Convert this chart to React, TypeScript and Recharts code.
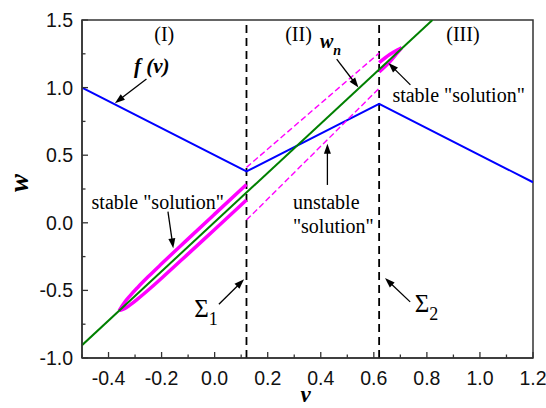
import React from 'react';
import {
  ComposedChart,
  Line,
  XAxis,
  YAxis,
  Label,
  ReferenceLine,
  ReferenceDot,
  ReferenceArea,
} from 'recharts';

// f(v): piecewise linear nullcline
const fCurve = [
  { v: -0.5, w: 1.0 },
  { v: 0.12, w: 0.38 },
  { v: 0.62, w: 0.88 },
  { v: 1.2, w: 0.3 },
];

// w_n line
const wnLine = [
  { v: -0.5, w: -0.905 },
  { v: 0.821, w: 1.5 },
];

// stable "solution" in region I (thick magenta lens)
const stableUpperI = [
  { v: -0.36, w: -0.65 },
  { v: -0.34, w: -0.589 },
  { v: -0.32, w: -0.542 },
  { v: -0.29, w: -0.478 },
  { v: -0.25, w: -0.398 },
  { v: -0.2, w: -0.303 },
  { v: -0.1, w: -0.119 },
  { v: 0.0, w: 0.064 },
  { v: 0.12, w: 0.283 },
];
const stableLowerI = [
  { v: -0.36, w: -0.65 },
  { v: -0.34, w: -0.636 },
  { v: -0.32, w: -0.609 },
  { v: -0.29, w: -0.563 },
  { v: -0.25, w: -0.497 },
  { v: -0.2, w: -0.41 },
  { v: -0.1, w: -0.23 },
  { v: 0.0, w: -0.049 },
  { v: 0.12, w: 0.168 },
];

// unstable "solution" in region II (dashed magenta)
const unstableUpperII = [
  { v: 0.12, w: 0.41 },
  { v: 0.62, w: 1.255 },
];
const unstableLowerII = [
  { v: 0.12, w: 0.02 },
  { v: 0.62, w: 0.995 },
];

// stable "solution" in region III
const stableUpperIII = [
  { v: 0.62, w: 1.185 },
  { v: 0.66, w: 1.245 },
  { v: 0.69, w: 1.28 },
  { v: 0.705, w: 1.295 },
];
const stableLowerIII = [
  { v: 0.62, w: 1.115 },
  { v: 0.66, w: 1.19 },
  { v: 0.69, w: 1.26 },
  { v: 0.705, w: 1.295 },
];

const sigmaLines = [0.12, 0.62];

const xMajorTicks = [-0.4, -0.2, 0.0, 0.2, 0.4, 0.6, 0.8, 1.0, 1.2];
const xMinorTicks = [-0.5, -0.3, -0.1, 0.1, 0.3, 0.5, 0.7, 0.9, 1.1];
const yMajorTicks = [-1.0, -0.5, 0.0, 0.5, 1.0, 1.5];
const yMinorTicks = [-0.75, -0.25, 0.25, 0.75, 1.25];

const regionLabels = [
  { text: '(I)', v: -0.19, w: 1.345 },
  { text: '(II)', v: 0.316, w: 1.345 },
  { text: '(III)', v: 0.936, w: 1.345 },
];

const plainNotes = [
  { text: 'stable "solution"', v: 0.67, w: 0.897 },
  { text: 'stable "solution"', v: -0.464, w: 0.102 },
  { text: 'unstable', v: 0.295, w: 0.1 },
  { text: '"solution"', v: 0.295, w: -0.073 },
];

const sigmaNotes = [
  { sub: '1', v: -0.077, w: -0.696 },
  { sub: '2', v: 0.754, w: -0.659 },
];

const arrows = [
  { from: { v: -0.257, w: 1.063 }, to: { v: -0.376, w: 0.885 } },
  { from: { v: 0.46, w: 1.211 }, to: { v: 0.542, w: 1.0 } },
  { from: { v: 0.738, w: 1.02 }, to: { v: 0.655, w: 1.182 } },
  { from: { v: -0.176, w: 0.082 }, to: { v: -0.156, w: -0.189 } },
  { from: { v: 0.425, w: 0.28 }, to: { v: 0.425, w: 0.585 } },
  { from: { v: 0.016, w: -0.602 }, to: { v: 0.111, w: -0.418 } },
  { from: { v: 0.737, w: -0.585 }, to: { v: 0.642, w: -0.409 } },
];

const serif = '"Liberation Serif", "Times New Roman", serif';
const sans = '"Liberation Sans", Arial, sans-serif';
const axisColor = '#333';

const isMajor = (list: number[], val: number) => list.some((t) => Math.abs(t - val) < 1e-6);

const XTick = (props: any) => {
  const { x, y, payload } = props;
  const major = isMajor(xMajorTicks, payload.value);
  return (
    <g>
      <line x1={x} y1={y} x2={x} y2={y - (major ? 6 : 3.5)} stroke={axisColor} strokeWidth={1.3} />
      {major && (
        <text x={x} y={y + 27} textAnchor="middle" fontSize={19.5} fontFamily={sans} fill="#111">
          {payload.value.toFixed(1)}
        </text>
      )}
    </g>
  );
};

const YTick = (props: any) => {
  const { x, y, payload } = props;
  const major = isMajor(yMajorTicks, payload.value);
  return (
    <g>
      <line x1={x} y1={y} x2={x + (major ? 6 : 3.5)} y2={y} stroke={axisColor} strokeWidth={1.3} />
      {major && (
        <text x={x - 9} y={y} dy="0.36em" textAnchor="end" fontSize={19.5} fontFamily={sans} fill="#111">
          {payload.value.toFixed(1)}
        </text>
      )}
    </g>
  );
};

const Arrow = (props: any) => {
  const { x1, y1, x2, y2 } = props;
  const dx = x2 - x1;
  const dy = y2 - y1;
  const len = Math.sqrt(dx * dx + dy * dy) || 1;
  const ux = dx / len;
  const uy = dy / len;
  const hl = 10;
  const hw = 3.5;
  const bx = x2 - ux * hl;
  const by = y2 - uy * hl;
  return (
    <g>
      <line x1={x1} y1={y1} x2={bx + ux * 2} y2={by + uy * 2} stroke="#000" strokeWidth={1.3} />
      <polygon
        points={`${x2},${y2} ${bx - uy * hw},${by + ux * hw} ${bx + uy * hw},${by - ux * hw}`}
        fill="#000"
      />
    </g>
  );
};

export default function App() {
  const xTicks = [...xMinorTicks, ...xMajorTicks].sort((a, b) => a - b);
  const yTicks = [...yMinorTicks, ...yMajorTicks].sort((a, b) => a - b);

  return (
    <div style={{ position: 'absolute', left: 0, top: 0, width: 546, height: 408, background: '#fff' }}>
      <ComposedChart width={546} height={408} margin={{ top: 20, right: 13, bottom: 0, left: 0 }}>
        <XAxis
          dataKey="v"
          type="number"
          domain={[-0.5, 1.2]}
          allowDataOverflow
          ticks={xTicks}
          interval={0}
          tickSize={0}
          tickMargin={0}
          tick={<XTick />}
          height={50}
          axisLine={{ stroke: axisColor, strokeWidth: 1.5 }}
        >
          <Label
            content={(p: any) => {
              const vb = p.viewBox || { x: 82, y: 358, width: 451, height: 50 };
              return (
                <text
                  x={vb.x + vb.width / 2 - 2}
                  y={vb.y + 44}
                  textAnchor="middle"
                  fontSize={23}
                  fontWeight="bold"
                  fontStyle="italic"
                  fontFamily={serif}
                  fill="#000"
                >
                  v
                </text>
              );
            }}
          />
        </XAxis>
        <YAxis
          type="number"
          domain={[-1.0, 1.5]}
          allowDataOverflow
          ticks={yTicks}
          interval={0}
          tickSize={0}
          tickMargin={0}
          tick={<YTick />}
          width={82}
          axisLine={{ stroke: axisColor, strokeWidth: 1.5 }}
        >
          <Label
            content={(p: any) => {
              const vb = p.viewBox || { x: 0, y: 20, width: 82, height: 338 };
              const cx = vb.x + 28;
              const cy = vb.y + 163;
              return (
                <text
                  x={cx}
                  y={cy}
                  transform={`rotate(-90, ${cx}, ${cy})`}
                  textAnchor="middle"
                  fontSize={27}
                  fontWeight="bold"
                  fontStyle="italic"
                  fontFamily={serif}
                  fill="#000"
                >
                  w
                </text>
              );
            }}
          />
        </YAxis>

        <ReferenceArea x1={-0.5} x2={1.2} y1={-1.0} y2={1.5} fill="none" stroke={axisColor} strokeWidth={1.5} />

        {sigmaLines.map((s) => (
          <ReferenceLine key={s} x={s} stroke="#000" strokeWidth={1.8} strokeDasharray="8 5" />
        ))}

        <Line data={fCurve} dataKey="w" stroke="#0000ff" strokeWidth={2} dot={false} isAnimationActive={false} />
        <Line data={unstableUpperII} dataKey="w" stroke="#ff00ff" strokeWidth={1.4} strokeDasharray="6 3" dot={false} isAnimationActive={false} />
        <Line data={unstableLowerII} dataKey="w" stroke="#ff00ff" strokeWidth={1.4} strokeDasharray="6 3" dot={false} isAnimationActive={false} />
        <Line data={stableUpperI} dataKey="w" type="monotone" stroke="#ff00ff" strokeWidth={3.5} dot={false} isAnimationActive={false} />
        <Line data={stableLowerI} dataKey="w" type="monotone" stroke="#ff00ff" strokeWidth={3.5} dot={false} isAnimationActive={false} />
        <Line data={stableUpperIII} dataKey="w" type="monotone" stroke="#ff00ff" strokeWidth={3.5} dot={false} isAnimationActive={false} />
        <Line data={stableLowerIII} dataKey="w" type="monotone" stroke="#ff00ff" strokeWidth={3.5} dot={false} isAnimationActive={false} />
        <Line data={wnLine} dataKey="w" stroke="#008000" strokeWidth={2} dot={false} isAnimationActive={false} />

        {arrows.map((a, i) => (
          <ReferenceLine
            key={`arrow-${i}`}
            segment={[
              { x: a.from.v, y: a.from.w },
              { x: a.to.v, y: a.to.w },
            ]}
            shape={(p: any) => <Arrow {...p} />}
          />
        ))}

        {regionLabels.map((r) => (
          <ReferenceDot
            key={r.text}
            x={r.v}
            y={r.w}
            r={1}
            shape={(p: any) => (
              <text x={p.cx} y={p.cy} textAnchor="middle" fontSize={20} fontFamily={serif} fill="#000">
                {r.text}
              </text>
            )}
          />
        ))}

        {plainNotes.map((n, i) => (
          <ReferenceDot
            key={`note-${i}`}
            x={n.v}
            y={n.w}
            r={1}
            shape={(p: any) => (
              <text x={p.cx} y={p.cy} textAnchor="start" fontSize={20} fontFamily={serif} fill="#000">
                {n.text}
              </text>
            )}
          />
        ))}

        {sigmaNotes.map((s) => (
          <ReferenceDot
            key={`sigma-${s.sub}`}
            x={s.v}
            y={s.w}
            r={1}
            shape={(p: any) => (
              <text x={p.cx} y={p.cy} textAnchor="start" fontSize={25} fontFamily={serif} fill="#000">
                Σ
                <tspan fontSize={18} dy={8}>
                  {s.sub}
                </tspan>
              </text>
            )}
          />
        ))}

        <ReferenceDot
          x={-0.237}
          y={1.11}
          r={1}
          shape={(p: any) => (
            <text
              x={p.cx}
              y={p.cy}
              textAnchor="middle"
              fontSize={21}
              fontWeight="bold"
              fontStyle="italic"
              fontFamily={serif}
              fill="#000"
            >
              f (v)
            </text>
          )}
        />
        <ReferenceDot
          x={0.397}
          y={1.295}
          r={1}
          shape={(p: any) => (
            <text
              x={p.cx}
              y={p.cy}
              textAnchor="start"
              fontSize={20}
              fontWeight="bold"
              fontStyle="italic"
              fontFamily={serif}
              fill="#000"
            >
              w
              <tspan fontSize={14} dy={7}>
                n
              </tspan>
            </text>
          )}
        />
      </ComposedChart>
    </div>
  );
}
